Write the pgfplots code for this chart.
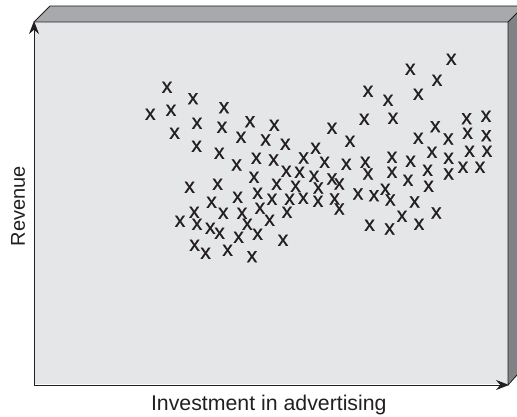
\documentclass[border=0pt]{standalone}
\usepackage{fontspec}
\setmainfont{Liberation Sans}
\newfontfamily\xfont[FakeBold=0.6]{Liberation Sans}
\usepackage{pgfplots}
\pgfplotsset{compat=1.18}
\usetikzlibrary{arrows.meta}
\definecolor{front}{HTML}{E5E6E8}
\definecolor{topf}{HTML}{A7A9AC}
\definecolor{sidef}{HTML}{808285}
\definecolor{ink}{HTML}{231F20}
\begin{document}
\begin{tikzpicture}
\begin{axis}[
  scale only axis, width=517pt, height=417pt,
  xmin=0, xmax=517, ymin=0, ymax=417, y dir=reverse,
  hide axis, clip=false,
]
\path[use as bounding box] (axis cs:0,0) rectangle (axis cs:517,417);
\fill[front] (axis cs:34,22) rectangle (axis cs:508,384);
\fill[topf] (axis cs:34,22) -- (axis cs:50,6) -- (axis cs:517,6) -- (axis cs:517,13) -- (axis cs:508,22) -- cycle;
\fill[sidef] (axis cs:508,22) -- (axis cs:517,13) -- (axis cs:517,375) -- (axis cs:508,384) -- cycle;
\draw[ink, line width=0.9pt] (axis cs:34,22) -- (axis cs:50,6) -- (axis cs:517,6);
\draw[ink, line width=0.9pt] (axis cs:34,22) -- (axis cs:508,22) -- (axis cs:517,13);
\draw[ink, line width=0.9pt] (axis cs:508,22) -- (axis cs:508,385) -- (axis cs:517,375);
\draw[ink, line width=1pt, -{Stealth[length=13pt,width=10pt]}] (axis cs:34,385) -- (axis cs:34,21);
\draw[ink, line width=1pt, -{Stealth[length=13pt,width=10pt]}] (axis cs:34,385) -- (axis cs:509,385);
\addplot[only marks, mark=text, text mark={x}, text mark as node=true, color=ink,
  text mark style={font=\xfont\fontsize{21}{21}\selectfont, inner sep=0pt, anchor=center, text=ink}]
 table[row sep=\\] {
x y\\
167 87.3\\ 193 98.7\\ 224 107.7\\ 150.3 114.3\\ 171 110.3\\ 197 123.3\\ 222 127.3\\ 250 121.7\\ 274.3 125.3\\ 174.6 133.3\\
241 137.3\\ 265.6 140\\ 285.3 144.3\\ 196.6 146.3\\ 219.3 153.3\\ 315.6 148.3\\ 256.3 158.3\\ 273.6 160\\ 303.6 158\\ 236.6 165\\
451.3 59.3\\ 410.3 69.3\\ 437 80.3\\ 368 91.3\\ 388 100.3\\ 418.3 94.3\\ 364.3 119.3\\ 393 118.3\\ 466.6 118.7\\ 486 116.3\\
332 128.3\\ 435.3 126.7\\ 467.6 133.3\\ 486.3 135.7\\ 418.3 138.3\\ 448.3 139\\ 350 141.3\\ 432 152.3\\ 469.6 151.3\\ 487 151.3\\
448.6 158.3\\ 392 157.3\\ 410.6 161.3\\ 324.6 162.3\\ 346.3 164.3\\ 365.3 162.3\\ 463 167.3\\ 480 167.3\\ 427.6 170.3\\ 448.6 174\\
392 172.3\\ 368 174\\ 408 180.3\\ 332 179\\ 339.3 184\\ 385.3 189.3\\ 428.6 186.3\\ 358 194\\ 374 195.7\\ 390.3 200\\
414.6 202\\ 334.6 199\\ 339.3 209\\ 402 216.3\\ 436.3 213\\ 369.6 225.3\\ 389.6 229\\ 419 224.3\\
286.3 171.3\\ 299.6 172.3\\ 314 176.3\\ 254 177.3\\ 276.6 184.3\\ 295.6 186.3\\ 318.3 188\\ 189.6 187.3\\ 217.6 184.3\\ 257.6 193.3\\
237.6 197.3\\ 272 199.3\\ 289.6 199.3\\ 303.3 198.3\\ 318 201.3\\ 211.6 202.3\\ 194.3 212.3\\ 223.3 213.3\\ 242 213.3\\ 260 208.3\\
287 212.3\\ 269.6 220.3\\ 247.3 224.3\\ 180 221.3\\ 197 224.3\\ 210.3 228.3\\ 219.6 233.3\\ 257.6 234.3\\ 238.6 237.3\\ 283 240.3\\
194.6 245.3\\ 205.6 253.3\\ 227.6 250.3\\ 252 256.7\\
};
\node[font=\fontsize{21.3}{22}\selectfont, text=ink] at (axis cs:268.8,405) {Investment in advertising};
\node[font=\fontsize{20}{22}\selectfont, text=ink, rotate=90] at (axis cs:18,206) {Revenue};
\end{axis}
\end{tikzpicture}
\end{document}
